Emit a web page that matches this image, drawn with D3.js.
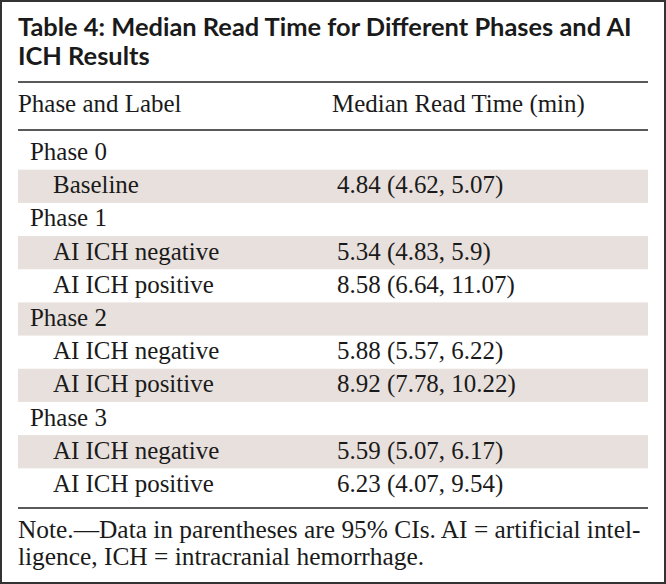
<!DOCTYPE html>
<html><head><meta charset="utf-8">
<script src="https://cdn.jsdelivr.net/npm/d3@7"></script>
<style>
html,body{margin:0;padding:0;background:#fff;}
svg{display:block;}
</style></head>
<body>
<script>
const titleLines = ["Table 4: Median Read Time for Different Phases and AI", "ICH Results"];
const headers = ["Phase and Label", "Median Read Time (min)"];
const phases = ["Phase 0", "Phase 1", "Phase 2", "Phase 3"];
const labels = [["Baseline"], ["AI ICH negative", "AI ICH positive"], ["AI ICH negative", "AI ICH positive"], ["AI ICH negative", "AI ICH positive"]];
const medians = [[4.84], [5.34, 8.58], [5.88, 8.92], [5.59, 6.23]];
const lowers = [[4.62], [4.83, 6.64], [5.57, 7.78], [5.07, 4.07]];
const uppers = [[5.07], [5.9, 11.07], [6.22, 10.22], [6.17, 9.54]];
const noteLines = ["Note.\u2014Data in parentheses are 95% CIs. AI = artificial intel-", "ligence, ICH = intracranial hemorrhage."];

const W = 666, H = 584;
const serif = "'Liberation Serif', 'DejaVu Serif', serif";
const sans = "Lato, 'Open Sans', sans-serif";
const ink = "#1a1a1a";

const rows = [];
phases.forEach((p, i) => {
  rows.push({type: "phase", label: p});
  labels[i].forEach((l, j) => rows.push({type: "item", label: l,
    value: medians[i][j] + " (" + lowers[i][j] + ", " + uppers[i][j] + ")"}));
});

const svg = d3.select("body").append("svg").attr("width", W).attr("height", H);

svg.append("rect").attr("x", 1).attr("y", 1).attr("width", W - 2).attr("height", H - 2)
  .attr("fill", "#fff").attr("stroke", "#333").attr("stroke-width", 2);

const x0 = 18, x1 = 648;
const y = d3.scaleBand().domain(d3.range(rows.length)).range([136.5, 501.5]);

function fitSize(text, family, weight, target) {
  const t = svg.append("text").attr("font-family", family).attr("font-weight", weight)
    .attr("font-size", 20).text(text);
  const w = t.node().getComputedTextLength();
  t.remove();
  return 20 * target / w;
}

const titleSize = fitSize(titleLines[0], sans, 700, 614);
svg.selectAll("text.title").data(titleLines).join("text").attr("class", "title")
  .attr("x", x0).attr("y", (d, i) => 36 + i * 29)
  .attr("font-family", sans).attr("font-weight", 700).attr("font-size", titleSize)
  .attr("fill", ink).text(d => d);

const bodySize = fitSize(headers[1], serif, 400, 253);

[82, 130, 508].forEach(yy => {
  svg.append("line").attr("x1", x0).attr("x2", x1).attr("y1", yy).attr("y2", yy)
    .attr("stroke", "#5a5a5a").attr("stroke-width", 2);
});

svg.selectAll("text.hdr").data(headers).join("text").attr("class", "hdr")
  .attr("x", (d, i) => i === 0 ? x0 : 332).attr("y", 112)
  .attr("font-family", serif).attr("font-size", bodySize).attr("fill", ink).text(d => d);

svg.selectAll("rect.band").data(rows.map((r, i) => i).filter(i => i % 2 === 1)).join("rect")
  .attr("class", "band").attr("x", x0).attr("width", x1 - x0)
  .attr("y", i => y(i)).attr("height", y.bandwidth()).attr("fill", "#e7e0dc");

const g = svg.selectAll("g.row").data(rows).join("g").attr("class", "row")
  .attr("transform", (d, i) => `translate(0,${y(i) + y.bandwidth() / 2 + 7})`);
g.append("text").attr("x", d => d.type === "phase" ? 30 : 53)
  .attr("font-family", serif).attr("font-size", bodySize).attr("fill", ink).text(d => d.label);
g.filter(d => d.type === "item").append("text").attr("x", 337)
  .attr("font-family", serif).attr("font-size", bodySize).attr("fill", ink).text(d => d.value);

const noteSize = fitSize(noteLines[0], serif, 400, 623);
svg.selectAll("text.note").data(noteLines).join("text").attr("class", "note")
  .attr("x", x0).attr("y", (d, i) => 538 + i * 27)
  .attr("font-family", serif).attr("font-size", noteSize).attr("fill", ink).text(d => d);
</script>
</body></html>
